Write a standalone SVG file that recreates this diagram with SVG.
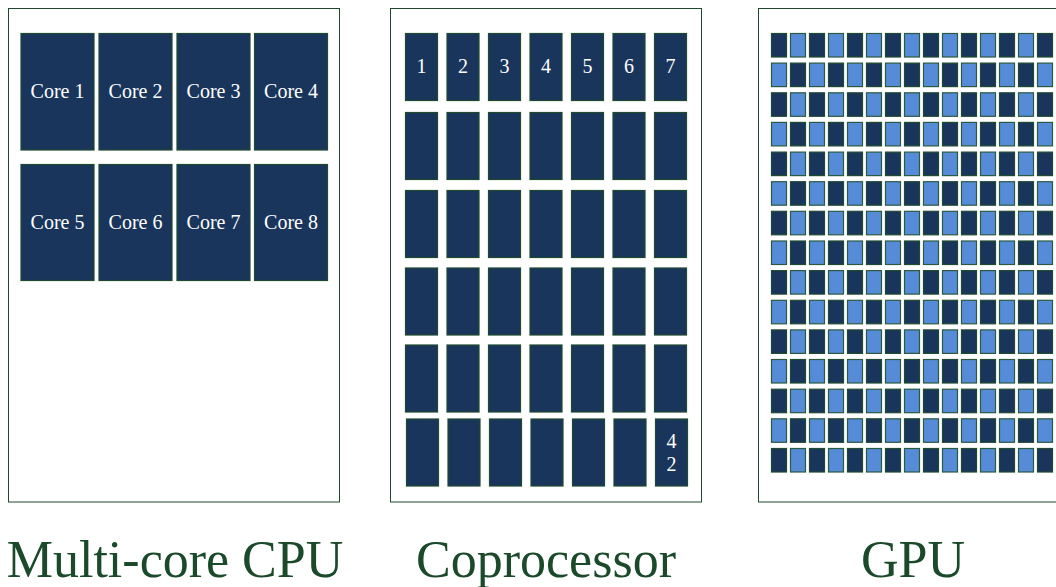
<svg xmlns="http://www.w3.org/2000/svg" xmlns:xlink="http://www.w3.org/1999/xlink" width="1056" height="587" viewBox="0 0 1056 587">
<style>
.panel{fill:#ffffff;stroke:#1d4a2e;stroke-width:1}
.dk{fill:#1a355b;stroke:#1e4a30;stroke-width:1.2}
.lt{fill:#568bd8;stroke:#2a5a40;stroke-width:1.2}
.ct{font-size:20px;fill:#ffffff;text-anchor:middle}
.lab{font-size:52px;fill:#1a4a2a;text-anchor:middle}
</style>
<defs>
<rect id="gd" width="15" height="23.5" class="dk"/>
<rect id="gl" width="15" height="23.5" class="lt"/>
<g id="rowA">
<use href="#gd" x="771.5"/><use href="#gl" x="790.5"/><use href="#gd" x="809.5"/><use href="#gl" x="828.5"/><use href="#gd" x="847.5"/><use href="#gl" x="866.5"/><use href="#gd" x="885.5"/><use href="#gl" x="904.5"/><use href="#gd" x="923.5"/><use href="#gl" x="942.5"/><use href="#gd" x="961.5"/><use href="#gl" x="980.5"/><use href="#gd" x="999.5"/><use href="#gl" x="1018.5"/><use href="#gd" x="1037.5"/>
</g>
<g id="rowB">
<use href="#gl" x="771.5"/><use href="#gd" x="790.5"/><use href="#gl" x="809.5"/><use href="#gd" x="828.5"/><use href="#gl" x="847.5"/><use href="#gd" x="866.5"/><use href="#gl" x="885.5"/><use href="#gd" x="904.5"/><use href="#gl" x="923.5"/><use href="#gd" x="942.5"/><use href="#gl" x="961.5"/><use href="#gd" x="980.5"/><use href="#gl" x="999.5"/><use href="#gd" x="1018.5"/><use href="#gl" x="1037.5"/>
</g>
<rect id="cp" width="32" height="67" class="dk"/>
</defs>
<rect width="1056" height="587" fill="#ffffff"/>

<g id="cpu" font-family="'Liberation Serif', 'DejaVu Serif', serif">
<rect class="panel" x="8.5" y="8.5" width="331" height="493.5"/>
<g id="core1"><rect class="dk" x="21" y="33.5" width="73" height="116.5"/><text class="ct" x="57.5" y="98">Core 1</text></g>
<g id="core2"><rect class="dk" x="99" y="33.5" width="73" height="116.5"/><text class="ct" x="135.5" y="98">Core 2</text></g>
<g id="core3"><rect class="dk" x="177" y="33.5" width="73" height="116.5"/><text class="ct" x="213.5" y="98">Core 3</text></g>
<g id="core4"><rect class="dk" x="254.5" y="33.5" width="73" height="116.5"/><text class="ct" x="291" y="98">Core 4</text></g>
<g id="core5"><rect class="dk" x="21" y="164.5" width="73" height="116"/><text class="ct" x="57.5" y="229">Core 5</text></g>
<g id="core6"><rect class="dk" x="99" y="164.5" width="73" height="116"/><text class="ct" x="135.5" y="229">Core 6</text></g>
<g id="core7"><rect class="dk" x="177" y="164.5" width="73" height="116"/><text class="ct" x="213.5" y="229">Core 7</text></g>
<g id="core8"><rect class="dk" x="254.5" y="164.5" width="73" height="116"/><text class="ct" x="291" y="229">Core 8</text></g>
</g>

<g id="coprocessor" font-family="'Liberation Serif', 'DejaVu Serif', serif">
<rect class="panel" x="390.5" y="8.5" width="311" height="493.5"/>
<g id="cp-row1">
<use href="#cp" x="405.5" y="33.5"/><use href="#cp" x="447" y="33.5"/><use href="#cp" x="488.5" y="33.5"/><use href="#cp" x="530" y="33.5"/><use href="#cp" x="571.5" y="33.5"/><use href="#cp" x="613" y="33.5"/><use href="#cp" x="654.5" y="33.5"/>
<text class="ct" x="421.5" y="73">1</text><text class="ct" x="463" y="73">2</text><text class="ct" x="504.5" y="73">3</text><text class="ct" x="546" y="73">4</text><text class="ct" x="587.5" y="73">5</text><text class="ct" x="629" y="73">6</text><text class="ct" x="670.5" y="73">7</text>
</g>
<g id="cp-row2">
<use href="#cp" x="405.5" y="112.5"/><use href="#cp" x="447" y="112.5"/><use href="#cp" x="488.5" y="112.5"/><use href="#cp" x="530" y="112.5"/><use href="#cp" x="571.5" y="112.5"/><use href="#cp" x="613" y="112.5"/><use href="#cp" x="654.5" y="112.5"/>
</g>
<g id="cp-row3">
<use href="#cp" x="405.5" y="190.5"/><use href="#cp" x="447" y="190.5"/><use href="#cp" x="488.5" y="190.5"/><use href="#cp" x="530" y="190.5"/><use href="#cp" x="571.5" y="190.5"/><use href="#cp" x="613" y="190.5"/><use href="#cp" x="654.5" y="190.5"/>
</g>
<g id="cp-row4">
<use href="#cp" x="405.5" y="268"/><use href="#cp" x="447" y="268"/><use href="#cp" x="488.5" y="268"/><use href="#cp" x="530" y="268"/><use href="#cp" x="571.5" y="268"/><use href="#cp" x="613" y="268"/><use href="#cp" x="654.5" y="268"/>
</g>
<g id="cp-row5">
<use href="#cp" x="405.5" y="345"/><use href="#cp" x="447" y="345"/><use href="#cp" x="488.5" y="345"/><use href="#cp" x="530" y="345"/><use href="#cp" x="571.5" y="345"/><use href="#cp" x="613" y="345"/><use href="#cp" x="654.5" y="345"/>
</g>
<g id="cp-row6">
<use href="#cp" x="406.5" y="419"/><use href="#cp" x="448" y="419"/><use href="#cp" x="489.5" y="419"/><use href="#cp" x="531" y="419"/><use href="#cp" x="572.5" y="419"/><use href="#cp" x="614" y="419"/><use href="#cp" x="655.5" y="419"/>
<text class="ct" x="671.5" y="448">4</text><text class="ct" x="671.5" y="471">2</text>
</g>
</g>

<g id="gpu">
<rect class="panel" x="758.5" y="8.5" width="320" height="493.5"/>
<use href="#rowA" y="33.5"/>
<use href="#rowB" y="63.1"/>
<use href="#rowA" y="92.8"/>
<use href="#rowB" y="122.4"/>
<use href="#rowA" y="152.1"/>
<use href="#rowB" y="181.7"/>
<use href="#rowA" y="211.3"/>
<use href="#rowB" y="241"/>
<use href="#rowA" y="270.6"/>
<use href="#rowB" y="300.3"/>
<use href="#rowA" y="329.9"/>
<use href="#rowB" y="359.5"/>
<use href="#rowA" y="389.2"/>
<use href="#rowB" y="418.8"/>
<use href="#rowA" y="448.5"/>
</g>

<g id="connectors"></g>

<g id="labels" font-family="'Liberation Serif', 'DejaVu Serif', serif">
<text class="lab" x="175" y="577">Multi-core CPU</text>
<text class="lab" x="546" y="577">Coprocessor</text>
<text class="lab" x="913" y="577">GPU</text>
</g>
</svg>
